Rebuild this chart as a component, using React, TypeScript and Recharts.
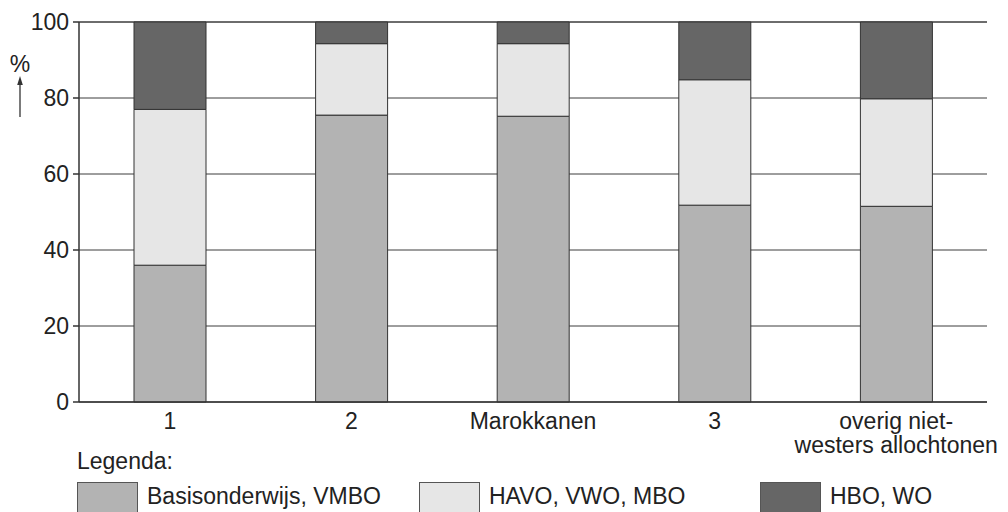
import React from 'react';
import { BarChart, Bar, XAxis, YAxis, CartesianGrid } from 'recharts';

const categories = ['1', '2', 'Marokkanen', '3', 'overig niet-\nwesters allochtonen'];
const basisValues = [36, 75.5, 75.2, 51.8, 51.5];
const havoValues = [41, 18.8, 19.1, 33, 28.3];
const hboValues = [23, 5.7, 5.7, 15.2, 20.2];
const yTicks = [0, 20, 40, 60, 80, 100];

const seriesNames = ['Basisonderwijs, VMBO', 'HAVO, VWO, MBO', 'HBO, WO'];
const seriesColors = ['#b3b3b3', '#e6e6e6', '#666666'];
const seriesKeys = ['basis', 'havo', 'hbo'];

const data = categories.map((c, i) => ({
  name: c,
  basis: basisValues[i],
  havo: havoValues[i],
  hbo: hboValues[i],
}));

const FONT = '"Liberation Sans", Arial, Helvetica, sans-serif';
const TEXT = '#222';
const LINE = '#333';

const XTick = (props: any) => {
  const { x, y, payload } = props;
  const lines = String(payload.value).split('\n');
  return (
    <text x={x} y={y} textAnchor="middle" fill={TEXT} fontSize={23} fontFamily={FONT}>
      {lines.map((l, i) => (
        <tspan key={i} x={x} dy={i === 0 ? '0.75em' : '1.04em'}>
          {l}
        </tspan>
      ))}
    </text>
  );
};

const legendBoxX = [77, 419, 760];

export default function App() {
  return (
    <div style={{ position: 'absolute', left: 0, top: 0, width: 1008, height: 512, background: '#fff', overflow: 'hidden' }}>
      <BarChart
        width={1008}
        height={512}
        data={data}
        margin={{ top: 22, right: 21, left: 0, bottom: 50 }}
        barCategoryGap={0}
      >
        <CartesianGrid vertical={false} stroke="#3c3c3c" strokeWidth={1} />
        <XAxis
          dataKey="name"
          interval={0}
          tickLine={false}
          tickSize={6}
          tickMargin={4}
          axisLine={{ stroke: LINE, strokeWidth: 1.5 }}
          height={60}
          tick={<XTick />}
        />
        <YAxis
          width={79}
          domain={[0, 100]}
          ticks={yTicks}
          interval={0}
          tickSize={6}
          tickMargin={4}
          axisLine={{ stroke: LINE, strokeWidth: 1.5 }}
          tickLine={{ stroke: LINE, strokeWidth: 1.5 }}
          tick={{ fontSize: 23, fill: TEXT, fontFamily: FONT }}
        />
        {seriesKeys.map((k, i) => (
          <Bar
            key={k}
            dataKey={k}
            name={seriesNames[i]}
            stackId="a"
            fill={seriesColors[i]}
            stroke="#333"
            strokeWidth={1}
            barSize={72}
            isAnimationActive={false}
          />
        ))}
      </BarChart>
      <svg width={60} height={130} style={{ position: 'absolute', left: 0, top: 0 }}>
        <text x={20} y={72} textAnchor="middle" fontSize={23} fill={TEXT} fontFamily={FONT}>%</text>
        <line x1={20} y1={117} x2={20} y2={84} stroke={LINE} strokeWidth={1.3} />
        <polygon points="20,76 17.2,85 22.8,85" fill={LINE} />
      </svg>
      <div
        style={{
          position: 'absolute',
          left: 77,
          top: 447,
          fontSize: 23,
          fontFamily: FONT,
          color: TEXT,
          lineHeight: '28px',
        }}
      >
        Legenda:
      </div>
      {seriesNames.map((n, i) => (
        <div key={n}>
          <div
            style={{
              position: 'absolute',
              left: legendBoxX[i],
              top: 482,
              width: 61,
              height: 32,
              boxSizing: 'border-box',
              background: seriesColors[i],
              border: '1px solid #555',
            }}
          />
          <div
            style={{
              position: 'absolute',
              left: legendBoxX[i] + 70,
              top: 480,
              fontSize: 23,
              fontFamily: FONT,
              color: TEXT,
              lineHeight: '32px',
              whiteSpace: 'nowrap',
            }}
          >
            {n}
          </div>
        </div>
      ))}
    </div>
  );
}
